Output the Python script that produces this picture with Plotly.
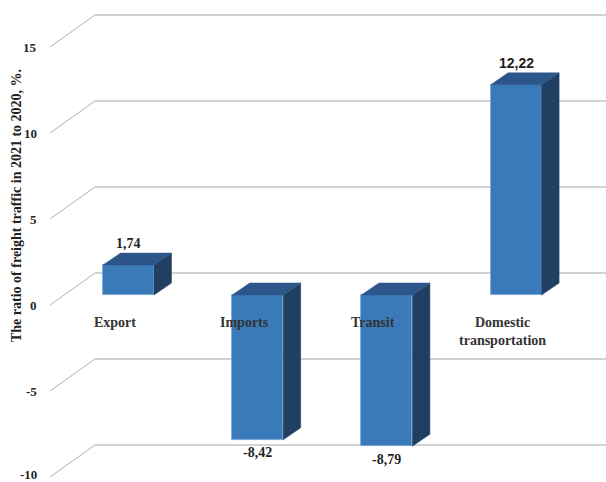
import plotly.graph_objects as go

# ---- data ----
categories = ["Export", "Imports", "Transit", "Domestic<br>transportation"]
values = [1.74, -8.42, -8.79, 12.22]
value_labels = ["1,74", "-8,42", "-8,79", "12,22"]
tick_values = [-10, -5, 0, 5, 10, 15]
y_title = "The ratio of freight traffic in 2021 to 2020, %."

# ---- geometry (pixel layout for the pseudo-3D look) ----
W, H = 606, 482
PX_PER_CAT = 129.2      # horizontal spacing between categories
CAT0_PX = 128.5         # pixel x of first bar centre
ZERO_PX = 295.0         # pixel y of value 0 on the bar front plane
PX_PER_UNIT = 17.2      # vertical pixels per unit

def px2x(px):
    return (px - CAT0_PX) / PX_PER_CAT

def dpx2y(dpx):
    return dpx / PX_PER_UNIT

bar_w = 51 / PX_PER_CAT
depth_dx = 17.5 / PX_PER_CAT
depth_dy = dpx2y(12)
wall_dy = dpx2y(22)          # back wall above the bar front plane
front_dy = -dpx2y(10)        # front plane (tick labels) below the bar front plane
wall_x = px2x(95)
front_x = px2x(50)

FRONT = "#3A7AB9"
TOP = "#2C5689"
SIDE = "#213F62"
FONT_SERIF = "Liberation Serif"

fig = go.Figure()

# gridlines on back wall and diagonal floor lines
shapes = []
for t in tick_values:
    shapes.append(dict(type="line", xref="x", yref="y", x0=wall_x, x1=px2x(W + 5),
                       y0=t + wall_dy, y1=t + wall_dy,
                       line=dict(color="#C3C3C3", width=1.6), layer="below"))
    shapes.append(dict(type="line", xref="x", yref="y", x0=front_x, x1=wall_x,
                       y0=t + front_dy, y1=t + wall_dy,
                       line=dict(color="#B0B0B0", width=1), layer="below"))

# front faces
xs = list(range(len(values)))
fig.add_trace(go.Bar(x=xs, y=values, width=bar_w, marker=dict(color=FRONT, line=dict(color="#6FA6DA", width=0.8)),
                     hoverinfo="skip", showlegend=False))

# side and top faces
for i, v in enumerate(values):
    x0, x1 = i - bar_w / 2, i + bar_w / 2
    side_x = [x1, x1, x1 + depth_dx, x1 + depth_dx, x1]
    side_y = [0, v, v + depth_dy, depth_dy, 0]
    fig.add_trace(go.Scatter(x=side_x, y=side_y, fill="toself", fillcolor=SIDE, mode="lines",
                             line=dict(color=SIDE, width=0.5), hoverinfo="skip", showlegend=False))
    top = max(v, 0)
    top_x = [x0, x1, x1 + depth_dx, x0 + depth_dx, x0]
    top_y = [top, top, top + depth_dy, top + depth_dy, top]
    fig.add_trace(go.Scatter(x=top_x, y=top_y, fill="toself", fillcolor=TOP, mode="lines",
                             line=dict(color=TOP, width=0.5), hoverinfo="skip", showlegend=False))

annotations = []
# tick labels on the front plane
for t in tick_values:
    y = t + front_dy
    if t == min(tick_values):
        y += dpx2y(3)   # keep the lowest label inside the picture
    annotations.append(dict(x=px2x(39), y=y, xref="x", yref="y", text="<b>%s</b>" % t,
                            showarrow=False, xanchor="right", yanchor="middle",
                            font=dict(family=FONT_SERIF, size=13, color="#262626")))
# category labels
for i, c in enumerate(categories):
    multi = "<br>" in c
    annotations.append(dict(x=i - 13.5 / PX_PER_CAT, y=dpx2y(ZERO_PX - (313 if multi else 322)),
                            xref="x", yref="y", text="<b>%s</b>" % c,
                            showarrow=False, xanchor="center", yanchor="top" if multi else "middle",
                            font=dict(family=FONT_SERIF, size=14, color="#333333")))
# value labels
for i, (v, lab) in enumerate(zip(values, value_labels)):
    if v >= 0:
        y = v + depth_dy + dpx2y(10)
    else:
        y = v - dpx2y(13)
    fam = FONT_SERIF if v < 10 else "Liberation Sans"
    annotations.append(dict(x=i, y=y, xref="x", yref="y", text="<b>%s</b>" % lab,
                            showarrow=False, xanchor="center", yanchor="middle",
                            font=dict(family=fam, size=14, color="#1F1F1F")))
# axis title
annotations.append(dict(x=px2x(16), y=dpx2y(ZERO_PX - 206), xref="x", yref="y", text="<b>%s</b>" % y_title,
                        showarrow=False, textangle=-90, xanchor="center", yanchor="middle",
                        font=dict(family=FONT_SERIF, size=14, color="#1F1F1F")))

fig.update_layout(
    width=W, height=H, margin=dict(l=0, r=0, t=0, b=0),
    paper_bgcolor="white", plot_bgcolor="white",
    xaxis=dict(range=[px2x(0), px2x(W)], visible=False, fixedrange=True),
    yaxis=dict(range=[dpx2y(ZERO_PX - H), dpx2y(ZERO_PX)], visible=False, fixedrange=True),
    shapes=shapes, annotations=annotations, bargap=0,
)

fig.write_html("out.html")
